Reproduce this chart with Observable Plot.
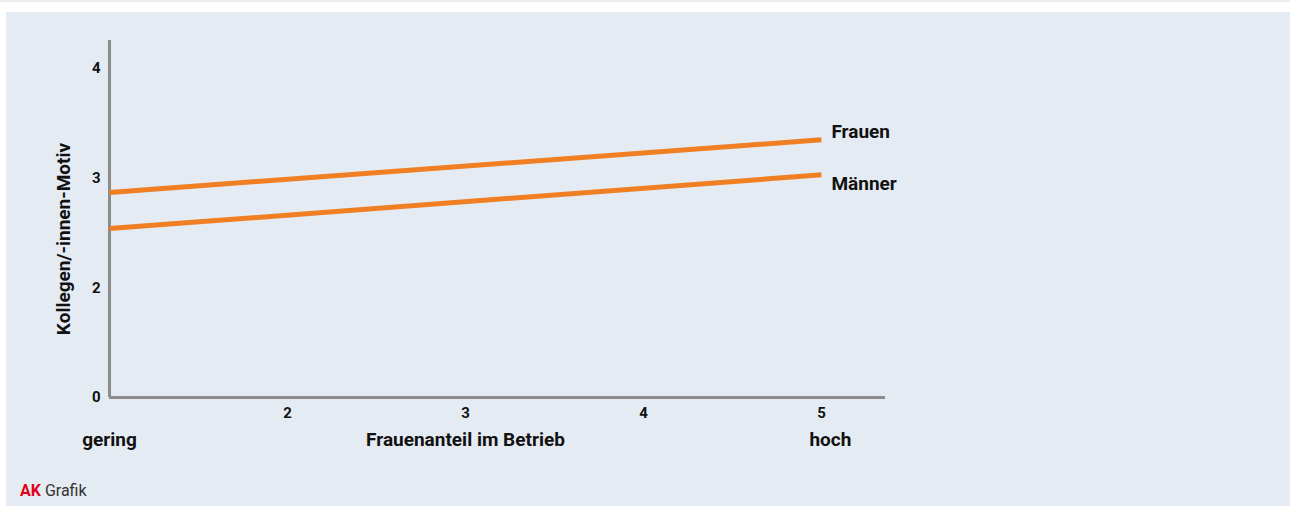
<!DOCTYPE html>
<html>
<head>
<meta charset="utf-8">
<script src="https://cdn.jsdelivr.net/npm/d3@7"></script>
<script src="https://cdn.jsdelivr.net/npm/@observablehq/plot@0.6"></script>
<style>
  html, body { margin: 0; padding: 0; background: #ffffff; width: 1290px; height: 506px; overflow: hidden; }
  #topline { position: absolute; left: 0; top: 0; width: 1290px; height: 2px; background: #e8edf2; }
  #panel { position: absolute; left: 6px; top: 12px; width: 1284px; height: 494px; background: #e4ebf2; }
  #chart { position: absolute; left: 0; top: 0; }
  #caption { position: absolute; left: 14px; top: 470px; font-family: Roboto, "Noto Sans", sans-serif; font-size: 16px; line-height: 18px; color: #333; }
  #caption b { color: #e2001a; font-weight: 700; }
</style>
</head>
<body>
<div id="topline"></div>
<div id="panel">
  <div id="chart"></div>
  <div id="caption"><b>AK</b> Grafik</div>
</div>
<script>
// ---- data ----
const xValues = [1, 5];
const frauen = [2.87, 3.35];
const maenner = [2.54, 3.03];
const seriesNames = ["Frauen", "Männer"];
const xTicks = [2, 3, 4, 5];
const yTickValues = [1, 2, 3, 4];
const yTickLabels = ["0", "2", "3", "4"];
const xEndLabels = ["gering", "hoch"];
const xAxisTitle = "Frauenanteil im Betrieb";
const yAxisTitle = "Kollegen/-innen-Motiv";

// ---- table built from arrays ----
const rows = [];
[frauen, maenner].forEach((vals, i) => {
  vals.forEach((v, j) => rows.push({series: seriesNames[i], x: xValues[j], y: v}));
});
const lastX = xValues[xValues.length - 1];
const endF = rows.filter(d => d.x === lastX && d.series === seriesNames[0]);
const endM = rows.filter(d => d.x === lastX && d.series === seriesNames[1]);

const orange = "#f07f23";
const axisGray = "#8c8c8c";
const font = "Roboto, 'Noto Sans', sans-serif";
const ink = "#111";

const chart = Plot.plot({
  width: 1284,
  height: 470,
  marginLeft: 103,
  marginRight: 405,
  marginTop: 28,
  marginBottom: 85,
  style: {background: "transparent", fontFamily: font, color: ink},
  x: {domain: [1, 5.36]},
  y: {domain: [1, 4.255]},
  marks: [
    Plot.axisX({ticks: xTicks, tickFormat: "d", tickSize: 0, tickPadding: 10, fontSize: 15, fontWeight: "bold", label: null}),
    Plot.axisY({ticks: yTickValues, tickFormat: (d) => yTickLabels[yTickValues.indexOf(d)], tickSize: 0, tickPadding: 9, fontSize: 15, fontWeight: "bold", label: null}),
    Plot.ruleX([1], {stroke: axisGray, strokeWidth: 3}),
    Plot.ruleY([1], {stroke: axisGray, strokeWidth: 3}),
    Plot.line(rows, {x: "x", y: "y", z: "series", stroke: orange, strokeWidth: 5, strokeLinecap: "butt"}),
    Plot.text(endF, {x: "x", y: "y", text: "series", textAnchor: "start", dx: 10, dy: -8, fontSize: 19, fontWeight: "bold", fill: ink}),
    Plot.text(endM, {x: "x", y: "y", text: "series", textAnchor: "start", dx: 10, dy: 9, fontSize: 19, fontWeight: "bold", fill: ink}),
    Plot.text([xEndLabels[0]], {x: [xValues[0]], frameAnchor: "bottom", dy: 48, text: (d) => d, fontSize: 19, fontWeight: "bold", fill: ink}),
    Plot.text([xEndLabels[1]], {x: [xValues[1]], frameAnchor: "bottom", dy: 48, dx: 9, text: (d) => d, fontSize: 19, fontWeight: "bold", fill: ink}),
    Plot.text([xAxisTitle], {x: [3], frameAnchor: "bottom", dy: 48, text: (d) => d, fontSize: 19, fontWeight: "bold", fill: ink}),
    Plot.text([yAxisTitle], {frameAnchor: "left", textAnchor: "middle", rotate: -90, dx: -46, dy: 20, text: (d) => d, fontSize: 19, fontWeight: "bold", fill: ink})
  ]
});
document.getElementById("chart").appendChild(chart);
</script>
</body>
</html>
